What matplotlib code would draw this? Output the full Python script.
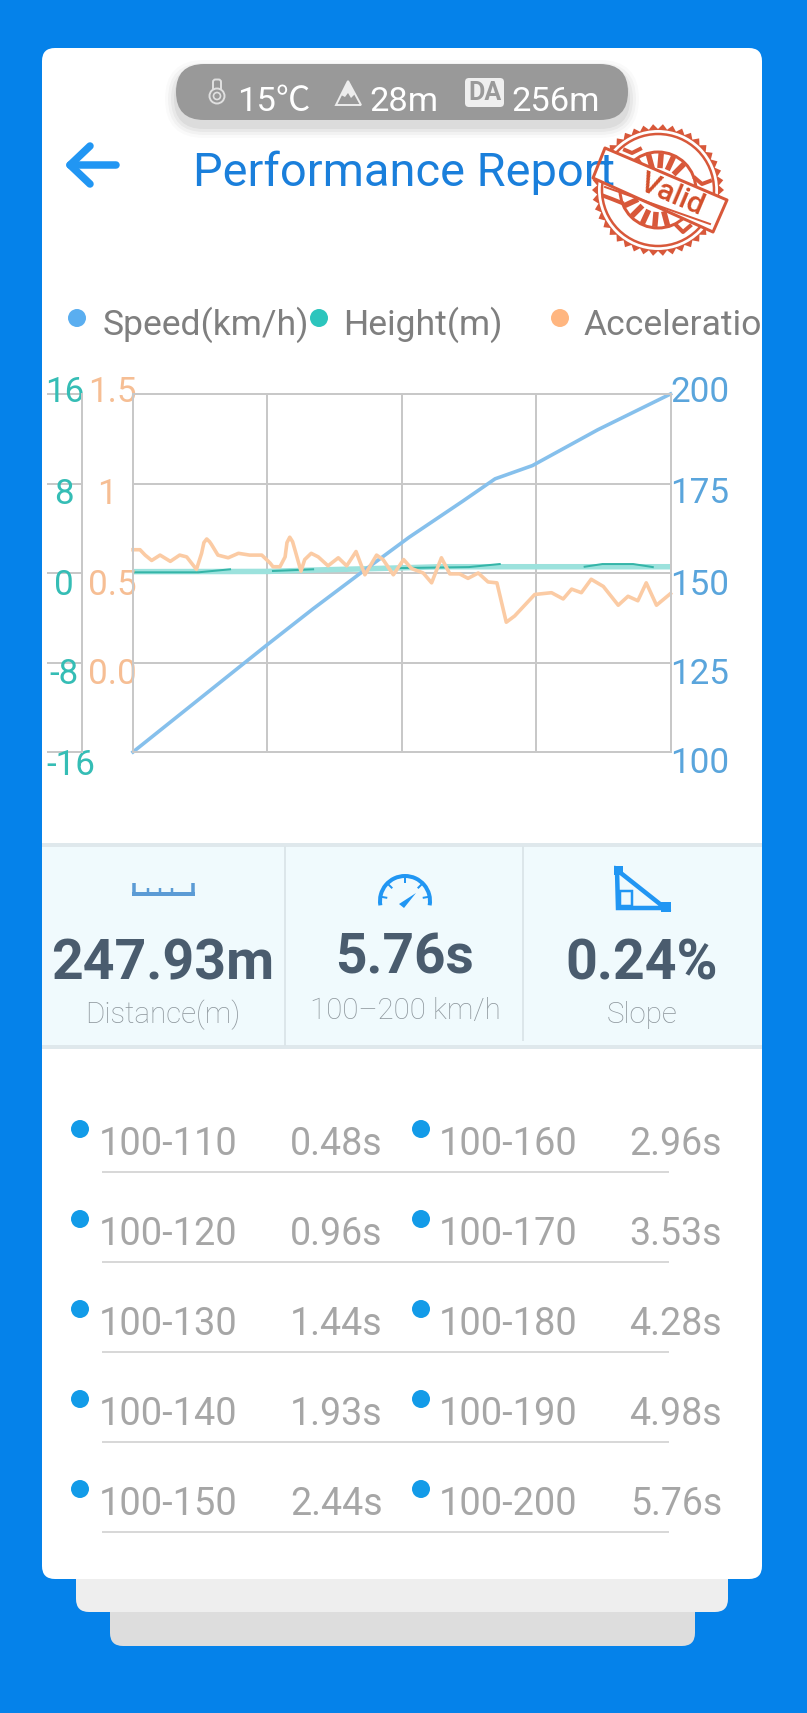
"""
plot.py - performance report screen: speed, height and acceleration chart
with the distance/time/slope panel and the split times below it.
"""
import numpy as np
import matplotlib
matplotlib.use("Agg")
import matplotlib.pyplot as plt
from matplotlib.patches import FancyBboxPatch, Rectangle, Circle, Arc, Polygon
from matplotlib.transforms import ScaledTranslation

plt.rcParams['font.family'] = ['Roboto', 'Noto Sans CJK SC', 'DejaVu Sans']

#----------------------------------------------------------------
#   DATA
#----------------------------------------------------------------
speed_time = [0, 0.48, 0.96, 1.44, 1.93, 2.44, 2.96, 3.53, 3.88, 4.28, 4.98, 5.76]
speed_kmh = [100, 110, 120, 130, 140, 150, 160, 170, 176.3, 180, 190, 200]

# nan where the thin line disappears inside the wide band
height_time = [0, 0.7, 1.04, 1.2, 1.5, 1.93, 2.2, 2.86, 3.6, 3.93, 4.2, 4.84, 5.03, 5.36, 5.57]
height_m = [0.06, 0.06, 0.33, np.nan, 0.18, 0.33, np.nan, 0.44, 0.53, 0.8, np.nan, 0.56, 0.8, 0.8, 0.53]
height_band_time = [0, 1.44, 1.97, 2.7, 3.3, 5.76]
height_band_m = [0.12, 0.14, 0.27, 0.42, 0.56, 0.56]

acc_time = [0.00, 0.075, 0.13, 0.20, 0.29, 0.40, 0.50, 0.575, 0.68, 0.735, 0.76, 0.79, 0.82, 0.84, 0.91,
            1.02, 1.13, 1.25, 1.38, 1.47, 1.50, 1.575, 1.63, 1.65, 1.68, 1.71, 1.735, 1.80, 1.84, 1.91,
            1.985, 2.09, 2.20, 2.29, 2.39, 2.485, 2.61, 2.68, 2.79, 2.90, 2.985, 3.11, 3.20,
            3.305, 3.395, 3.50, 3.59, 3.70, 3.805, 3.90, 4.00, 4.09, 4.305, 4.485, 4.61, 4.70,
            4.805, 4.91, 5.04, 5.20, 5.305, 5.41, 5.50, 5.61, 5.76]
acc_g = [0.63, 0.63, 0.60, 0.57, 0.60, 0.565, 0.60, 0.59, 0.52, 0.61, 0.67, 0.69, 0.675, 0.66, 0.60,
         0.585, 0.61, 0.60, 0.60, 0.555, 0.535, 0.535, 0.59, 0.67, 0.70, 0.675, 0.63, 0.51, 0.575, 0.61,
         0.59, 0.54, 0.585, 0.54, 0.62, 0.49, 0.60, 0.575, 0.49, 0.575, 0.525, 0.50, 0.445,
         0.585, 0.495, 0.495, 0.47, 0.50, 0.45, 0.445, 0.225, 0.26, 0.38, 0.39, 0.355, 0.41,
         0.39, 0.465, 0.425, 0.32, 0.37, 0.345, 0.445, 0.32, 0.385]

speed_ticks = [100, 125, 150, 175, 200]
height_ticks = [-16, -8, 0, 8, 16]
height_tick_labels = ["-16", "-8", "0", "8", "16"]
acc_ticks = [0.0, 0.5, 1.0, 1.5]
acc_tick_labels = ["0.0", "0.5", "1", "1.5"]
time_grid = [1.44, 2.88, 4.32]

legend_labels = ["Speed(km/h)", "Height(m)", "Acceleratio"]
conditions = ["15℃", "28m", "256m"]

stat_values = ["247.93m", "5.76s", "0.24%"]
stat_labels = ["Distance(m)", "100–200 km/h", "Slope"]

split_left = ["100-110", "100-120", "100-130", "100-140", "100-150"]
split_left_times = ["0.48s", "0.96s", "1.44s", "1.93s", "2.44s"]
split_right = ["100-160", "100-170", "100-180", "100-190", "100-200"]
split_right_times = ["2.96s", "3.53s", "4.28s", "4.98s", "5.76s"]

#----------------------------------------------------------------
#   COLOURS AND HELPERS
#----------------------------------------------------------------
BLUE_BG = "#0582EA"
ICON_BLUE = "#2196F3"
SPEED_COLOR = "#5AA5DC"
HEIGHT_COLOR = "#35BDB5"
ACC_COLOR = "#F6BE94"
GRID_COLOR = "#C8C8C8"
STAMP = "#D8583A"

W, H = 807, 1713
fig = plt.figure(figsize=(W / 100, H / 100), dpi=100, facecolor=BLUE_BG)

# the whole screen is drawn on one axes in pixel coordinates
ui = fig.add_axes([0, 0, 1, 1])
ui.set_xlim(0, W)
ui.set_ylim(H, 0)
ui.axis("off")


def px(size):
    return size * 0.72


def rbox(x0, y0, x1, y1, r, color, z=1, alpha=1.0):
    ui.add_patch(FancyBboxPatch((x0 + r, y0 + r), x1 - x0 - 2 * r, y1 - y0 - 2 * r,
                                boxstyle=f"round,pad={r},rounding_size={r}",
                                fc=color, ec="none", zorder=z, alpha=alpha))


def label(x, y, s, size, color, ha="left", weight="normal", z=5, rot=0):
    ui.text(x, y, s, fontsize=px(size), color=color, ha=ha, va="baseline",
            fontweight=weight, zorder=z, rotation=rot, rotation_mode="anchor")


#----------------------------------------------------------------
#   CARD STACK
#----------------------------------------------------------------
rbox(110, 1560, 695, 1646, 13, "#DDDDDD", z=1)
rbox(76, 1530, 728, 1612, 13, "#EEEEEE", z=2)
rbox(42, 48, 762, 1579, 13, "white", z=3)

#----------------------------------------------------------------
#   CONDITIONS PILL
#----------------------------------------------------------------
for grow, a in zip([11, 8, 5, 2], [0.02, 0.03, 0.04, 0.05]):
    rbox(176 - grow, 64 + 7 - grow, 628 + grow, 120 + 7 + grow, 28 + grow, "black", z=3.5, alpha=a)
rbox(176, 64, 628, 120, 28, "#999999", z=4)

# thermometer
ui.add_patch(FancyBboxPatch((215.5, 82), 3, 12, boxstyle="round,pad=2.5,rounding_size=2.5",
                            fc="none", ec="#E0E0E0", lw=1.4, zorder=5))
ui.add_patch(Circle((217, 96), 7.5, fc="#999999", ec="#E0E0E0", lw=1.4, zorder=5))
ui.add_patch(Circle((217, 96), 3.5, fc="#999999", ec="#E0E0E0", lw=1.2, zorder=6))
# mountain
ui.add_patch(Polygon([(336, 105), (348, 81), (361, 105)], fc="none", ec="#EDEDED", lw=1.4, zorder=5))
ui.add_patch(Polygon([(348, 81), (341, 95), (345, 97), (348, 93), (351, 98), (355, 94)],
                     fc="#EDEDED", ec="none", zorder=6))
# density altitude badge
rbox(465, 78, 504, 107, 4, "#EFEFEF", z=5)
label(484.5, 100, "DA", 25, "#999999", ha="center", weight="bold", z=6)

label(237, 111, conditions[0], 34.5, "white")
label(369, 111, conditions[1], 34.5, "white")
label(511, 111, conditions[2], 34.5, "white")

#----------------------------------------------------------------
#   HEADER
#----------------------------------------------------------------
ui.plot([70, 116], [165, 165], color=ICON_BLUE, lw=px(7.5), solid_capstyle="round", zorder=5)
ui.plot([90, 70, 90], [146, 165, 184], color=ICON_BLUE, lw=px(7.5), solid_capstyle="round",
        solid_joinstyle="round", zorder=5)

# stamp: the title shows through it, only the banner outline goes on top
CX, CY = 658, 190
ang = np.linspace(0, 2 * np.pi, 85)
rad = np.where(np.arange(85) % 2 == 0, 66, 61)
ui.add_patch(Polygon(np.c_[CX + rad * np.cos(ang), CY + rad * np.sin(ang)], fc=STAMP, ec="none", zorder=6))
ui.add_patch(Circle((CX, CY), 60, fc="white", ec="none", zorder=6))
ui.add_patch(Circle((CX, CY), 56, fc="none", ec=STAMP, lw=px(2.5), zorder=6))
ui.add_patch(Circle((CX, CY), 38, fc="none", ec=STAMP, lw=px(3), zorder=6))
for deg in [-125, -105, -85, -65, -45, 75, 95, 115, 135, 155]:
    a = np.deg2rad(deg)
    ui.plot([CX + 22 * np.cos(a), CX + 37 * np.cos(a)], [CY + 22 * np.sin(a), CY + 37 * np.sin(a)],
            color=STAMP, lw=px(5.5), solid_capstyle="butt", zorder=6)
# worn ink blobs
for xs, ys in [([695, 702, 710], [178, 184, 181]), ([604, 612, 622], [196, 199, 203]),
               ([676, 683, 690], [225, 232, 226]), ([625, 632, 640], [150, 153, 149])]:
    ui.plot(xs, ys, color=STAMP, lw=px(4), zorder=6)

banner = [(605, 148), (727, 200), (713, 232), (593, 178)]
ui.add_patch(Polygon(banner, fc="white", ec="none", zorder=6.2))
label(193, 186, "Performance Report", 47, "#1A7FDB", z=6.5)
ui.add_patch(Polygon(banner, fc="none", ec=STAMP, lw=px(3), joinstyle="round", zorder=7))
ui.plot([605, 710], [187, 224], color=STAMP, lw=px(2), zorder=8)
label(638, 189, "Valid", 30, "#D24E2A", weight="medium", z=8, rot=-23)

#----------------------------------------------------------------
#   LEGEND
#----------------------------------------------------------------
for x_dot, color, x_txt, txt in zip([77, 319, 560], ["#5AAEF0", "#2CC5BD", "#FFB680"],
                                    [103, 343, 584], legend_labels):
    ui.add_patch(Circle((x_dot, 318), 9, fc=color, ec="none", zorder=5))
    label(x_txt, 335, txt, 35.5, "#7F7F7F")

#----------------------------------------------------------------
#   CHART, ONE AXES PER SCALE
#----------------------------------------------------------------
x0, x1, y_top, y_bot = 133, 670.5, 394, 752
rect = [x0 / W, 1 - y_bot / H, (x1 - x0) / W, (y_bot - y_top) / H]

ax_h = fig.add_axes(rect, facecolor="none")
ax_s = ax_h.twinx()
ax_a = ax_h.twinx()
for ax in (ax_h, ax_s, ax_a):
    ax.set_facecolor("none")
    ax.set_xlim(0, 5.76)
    for spine in ax.spines.values():
        spine.set_color(GRID_COLOR)
        spine.set_linewidth(px(2))

ax_h.set_ylim(-16, 16)
ax_s.set_ylim(100, 200)
ax_a.set_ylim(-0.5, 1.5)

ax_h.set_xticks(time_grid)
ax_h.set_xticklabels([])
ax_h.tick_params(axis="x", length=0)
ax_h.set_yticks(height_ticks)
ax_h.set_yticklabels(height_tick_labels)
ax_h.grid(True, color=GRID_COLOR, lw=px(2))
ax_h.set_axisbelow(True)
ax_h.spines["left"].set_position(("outward", px(x0 - 82)))
ax_h.tick_params(axis="y", length=px(35), width=px(2), color=GRID_COLOR, pad=0,
                 labelsize=px(35), labelcolor=HEIGHT_COLOR)

ax_s.set_yticks(speed_ticks)
ax_s.tick_params(axis="y", length=0, pad=0, labelsize=px(35), labelcolor=SPEED_COLOR)

ax_a.yaxis.tick_left()
ax_a.set_yticks(acc_ticks)
ax_a.set_yticklabels(acc_tick_labels)
ax_a.tick_params(axis="y", length=0, pad=0, labelsize=px(35), labelcolor=ACC_COLOR)

ax_h.plot(height_band_time, height_band_m, color="#9CE2DD", lw=px(5.5), zorder=3,
          solid_capstyle="butt", clip_on=False)
ax_h.plot(height_time, height_m, color="#35B5A8", lw=px(2), zorder=4, clip_on=False)
ax_a.plot(acc_time, acc_g, color="#FBCBA4", lw=px(3.6), solid_joinstyle="round", clip_on=False)
ax_s.plot(speed_time, speed_kmh, color="#86C0EC", lw=px(3.6), clip_on=False)


def shift_labels(ax, ha, dx_list, dy_list):
    for lab, dx, dy in zip(ax.get_yticklabels(), dx_list, dy_list):
        lab.set_ha(ha)
        lab.set_va("baseline")
        lab.set_transform(lab.get_transform() + ScaledTranslation(dx / 100, -dy / 100, fig.dpi_scale_trans))


# labels sit below their grid lines in the app, not centred on them
shift_labels(ax_h, "left", [-1, 2, 7, 7, -2], [23, 21, 22, 20, 8])
shift_labels(ax_a, "right", [4, 4, -16, 4], [21, 22, 20, 8])
shift_labels(ax_s, "left", [0, 0, 0, 0, 0], [21, 21, 22, 20, 8])

#----------------------------------------------------------------
#   STATS PANEL
#----------------------------------------------------------------
ui.add_patch(Rectangle((42, 843), 720, 206, fc="#DFE8EC", ec="none", zorder=4))
ui.add_patch(Rectangle((42, 847), 720, 198, fc="#F0FAFD", ec="none", zorder=4.5))
ui.plot([285, 285], [847, 1045], color="#DCE6EA", lw=px(2), zorder=5)
ui.plot([523, 523], [847, 1040], color="#DCE6EA", lw=px(2), zorder=5)

# ruler
ruler = "#5B9BD5"
ui.add_patch(Rectangle((132, 892), 63, 4, fc=ruler, ec="none", zorder=5))
for x_t, top in zip([134, 148, 160, 172, 193], [883, 888, 888, 888, 883]):
    ui.plot([x_t, x_t], [top, 893], color=ruler, lw=px(3.5 if top == 883 else 2.5), solid_capstyle="butt", zorder=5)

# gauge
ui.add_patch(Arc((405, 901), 50, 50, theta1=170, theta2=370, color=ICON_BLUE, lw=px(4), zorder=5))
for a in np.deg2rad([190, 225, 270, 315, 350]):
    ui.plot([405 + 24 * np.cos(a), 405 + 19 * np.cos(a)], [901 + 24 * np.sin(a), 901 + 19 * np.sin(a)],
            color=ICON_BLUE, lw=px(2), zorder=5)
ui.add_patch(Polygon([(399, 904), (404, 908), (416, 893)], fc=ICON_BLUE, ec="none", zorder=5))

# slope
ui.add_patch(Polygon([(617, 870), (618, 908), (665, 908)], fc="none", ec=ICON_BLUE, lw=px(4.5), zorder=5))
ui.add_patch(Rectangle((614, 866), 9, 9, fc=ICON_BLUE, ec="none", zorder=5))
ui.add_patch(Rectangle((661, 902), 10, 10, fc=ICON_BLUE, ec="none", zorder=5))
ui.add_patch(Rectangle((620, 891), 12, 15, fc="none", ec=ICON_BLUE, lw=px(2.5), zorder=5))

stat_x = [163, 405, 642]
stat_value_y = [979, 974, 979]
stat_label_y = [1023, 1019, 1023]
stat_sizes = [55.5, 55, 55.5]
for xc, yv, yl, val, sub, size in zip(stat_x, stat_value_y, stat_label_y, stat_values, stat_labels, stat_sizes):
    label(xc, yv, val, size, "#4A5C6E", ha="center", weight="bold")
    label(xc, yl, sub, 29.5, "#8E979D", ha="center", weight="light")

#----------------------------------------------------------------
#   SPLIT TIMES
#----------------------------------------------------------------
for i in range(5):
    shift = 90 * i
    ui.add_patch(Circle((80, 1129 + shift), 9, fc="#139BE8", ec="none", zorder=5))
    ui.add_patch(Circle((421, 1129 + shift), 9, fc="#139BE8", ec="none", zorder=5))
    label(99, 1155 + shift, split_left[i], 38, "#A6A6A6")
    label(382.5, 1155 + shift, split_left_times[i], 37.5, "#A6A6A6", ha="right")
    label(439, 1155 + shift, split_right[i], 38, "#A6A6A6")
    label(722, 1155 + shift, split_right_times[i], 37.5, "#A6A6A6", ha="right")
    ui.plot([103, 668], [1172 + shift, 1172 + shift], color="#D8D8D8", lw=px(2), zorder=5)

fig.savefig("out.png", dpi=100, facecolor=BLUE_BG)
